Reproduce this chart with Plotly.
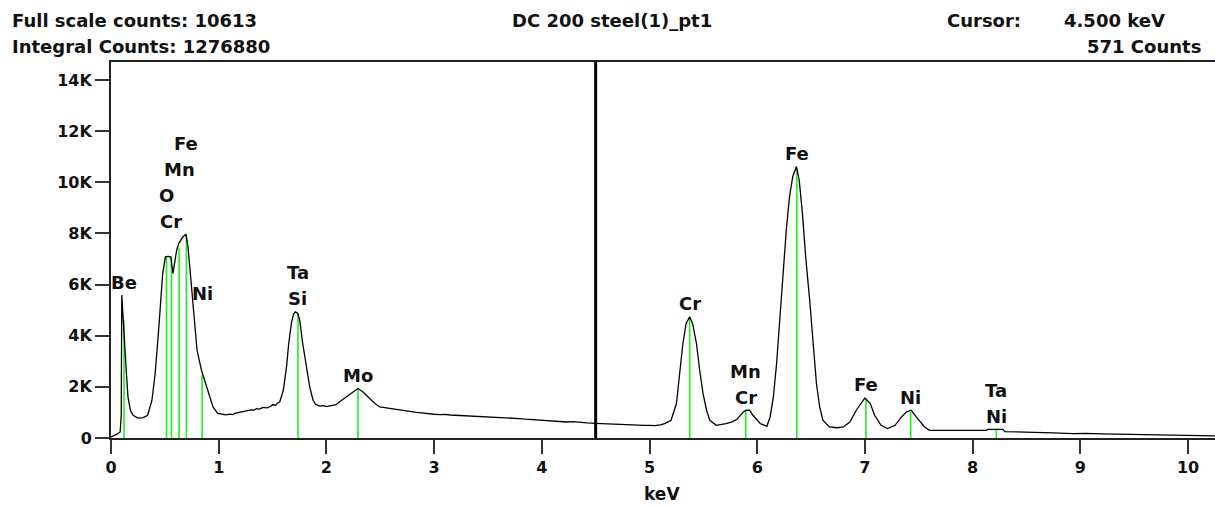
import plotly.graph_objects as go

# ---------------------------------------------------------------- data
spectrum_title = "DC 200 steel(1)_pt1"
integral_counts = 1276880
cursor_kev = 4.5
cursor_counts = 571

# EDS spectrum: energy (keV) and counts
energy_kev = [
    0.00, 0.03, 0.06, 0.085, 0.095, 0.10, 0.112, 0.128, 0.143, 0.158,
    0.18, 0.205, 0.25, 0.30, 0.34, 0.38, 0.41, 0.44, 0.46, 0.48,
    0.505, 0.53, 0.555, 0.575, 0.61, 0.63, 0.665, 0.695, 0.715, 0.746,
    0.777, 0.799, 0.84, 0.886, 0.947, 0.99, 1.04, 1.07, 1.10, 1.13,
    1.15, 1.18, 1.20, 1.23, 1.26, 1.30, 1.33, 1.35, 1.38, 1.41,
    1.45, 1.48, 1.50, 1.53, 1.545, 1.567, 1.60, 1.63,
    1.65, 1.675, 1.695, 1.712, 1.735, 1.752, 1.78, 1.814, 1.845, 1.876,
    1.90, 1.94, 1.97, 2.00, 2.03, 2.06, 2.09, 2.12, 2.185, 2.247, 2.293,
    2.34, 2.40, 2.45, 2.495, 2.53, 2.56, 2.60, 2.65, 2.70, 2.75,
    2.79, 2.836, 2.88, 2.92, 2.96, 3.00, 3.05, 3.10, 3.15, 3.20,
    3.25, 3.30, 3.36, 3.42, 3.48, 3.55, 3.62, 3.68, 3.73, 3.79,
    3.85, 3.92, 4.00, 4.06, 4.12, 4.18, 4.23, 4.29, 4.35, 4.42,
    4.50, 4.55, 4.60, 4.68, 4.75, 4.82, 4.90, 4.95, 5.00, 5.05,
    5.10, 5.14, 5.20, 5.25, 5.28, 5.31,
    5.34, 5.373, 5.40, 5.436, 5.466, 5.497, 5.53, 5.56, 5.62, 5.66,
    5.71, 5.76, 5.81, 5.87, 5.90, 5.93, 5.96, 6.03, 6.09, 6.12, 6.15,
    6.18, 6.21, 6.24, 6.27, 6.30, 6.33, 6.364, 6.39, 6.42, 6.45,
    6.49, 6.52, 6.55, 6.58, 6.61, 6.67, 6.74, 6.80, 6.86, 6.92,
    6.97, 7.00, 7.05, 7.09, 7.15, 7.21, 7.28, 7.34, 7.385, 7.43,
    7.49, 7.555, 7.60, 7.80, 7.90, 8.00, 8.13, 8.14, 8.28, 8.30,
    8.45, 8.60, 8.75, 8.93, 9.05, 9.20, 9.30, 9.45, 9.60, 9.74,
    9.85, 10.0, 10.12, 10.25,
]
counts = [
    40, 90, 160, 235, 900, 5585, 4600, 3560, 2530, 1600,
    1085, 890, 780, 800, 890, 1475, 2520, 4090, 5390, 6430,
    7085, 7100, 7085, 6430, 7350, 7610, 7850, 7970, 7475, 5910,
    4345, 3430, 2650, 2000, 1213, 960, 916, 905, 930, 915,
    960, 990, 1010, 1040, 1085, 1100, 1090, 1150, 1130, 1200,
    1180, 1230, 1300, 1280, 1360, 1410, 1867, 2780,
    3695, 4478, 4850, 4932, 4870, 4607, 3695, 2780, 2000, 1475,
    1320, 1250, 1270, 1230, 1250, 1260, 1300, 1410, 1605, 1800, 1933,
    1800, 1542, 1350, 1213, 1190, 1160, 1130, 1100, 1075, 1050,
    1030, 1000, 985, 960, 945, 928, 915, 925, 900, 889,
    890, 870, 875, 850, 840, 815, 790, 800, 765, 760,
    735, 715, 693, 700, 665, 650, 626, 640, 605, 590,
    571, 560, 545, 530, 525, 505, 500, 490, 497, 485,
    510, 563, 693, 1346, 2520, 3695,
    4478, 4736, 4478, 3695, 2650, 1738, 1085, 693, 497, 520,
    563, 620, 720, 1018, 1085, 1085, 890, 563, 458, 822, 1605,
    2912, 4736, 6564, 8130, 9433, 10216, 10613, 10087, 8783, 7085,
    5260, 3560, 2130, 1213, 693, 430, 400, 430, 626, 1085,
    1410, 1566, 1346, 890, 497, 368, 497, 822, 1018, 1085,
    759, 430, 301, 290, 300, 295, 301, 340, 340, 250,
    235, 235, 200, 172, 180, 160, 150, 130, 120, 106,
    110, 95, 90, 80,
]

# identified emission lines: position (keV) and marker height (counts)
line_kev = [0.121, 0.515, 0.561, 0.632, 0.700, 0.846, 1.736, 2.293,
            5.373, 5.893, 6.368, 7.01, 7.425, 8.22]
line_top = [4600, 7085, 7085, 7420, 7970, 2450, 4870, 1933,
            4736, 1085, 10545, 1540, 1018, 328]

# peak labels: element, keV, peak height it sits over, stack level
label_text = ["Be", "Cr", "O", "Mn", "Fe", "Ni", "Si", "Ta", "Mo",
              "Cr", "Cr", "Mn", "Fe", "Fe", "Ni", "Ni", "Ta"]
label_kev = [0.121, 0.561, 0.515, 0.632, 0.700, 0.846, 1.736, 1.736, 2.293,
             5.373, 5.893, 5.893, 6.368, 7.01, 7.425, 8.22, 8.22]
label_peak = [5585, 7970, 7970, 7970, 7970, 5150, 4932, 4932, 1933,
              4736, 1085, 1085, 10613, 1566, 1085, 340, 340]
label_level = [0, 0, 1, 2, 3, 0, 0, 1, 0, 0, 0, 1, 0, 0, 0, 0, 1]

x_ticks = list(range(0, 11))
y_ticks = [0, 2000, 4000, 6000, 8000, 10000, 12000, 14000]
y_tick_text = ["0", "2K", "4K", "6K", "8K", "10K", "12K", "14K"]

# ---------------------------------------------------------------- layout
W, H = 1215, 506
ML, MR, MT, MB = 111, 0, 62, 68
PW, PH = W - ML - MR, H - MT - MB
FONT = "DejaVu Sans"
INK = "#111111"


def paper_x(px):
    return (px - ML) / PW


def paper_y(py):
    return (H - MB - py) / PH


fig = go.Figure()

# element marker lines
mx, my = [], []
for e, t in zip(line_kev, line_top):
    mx += [e, e, None]
    my += [0, t, None]
fig.add_trace(go.Scatter(x=mx, y=my, mode="lines",
                         line=dict(color="#1ef01e", width=1.6),
                         hoverinfo="skip", showlegend=False))

# spectrum
fig.add_trace(go.Scatter(x=energy_kev, y=counts, mode="lines",
                         line=dict(color="#000000", width=1.3),
                         showlegend=False))

# cursor
fig.add_shape(type="line", xref="x", yref="paper",
              x0=cursor_kev, x1=cursor_kev, y0=0, y1=1,
              line=dict(color="#000000", width=3))

ann = []
for txt, e, pk, lv in zip(label_text, label_kev, label_peak, label_level):
    ann.append(dict(x=e, y=pk, xref="x", yref="y", text=txt, showarrow=False,
                    xanchor="center", yanchor="middle", yshift=13 + 26 * lv,
                    font=dict(family=FONT, size=18, color=INK, weight="bold")))

head_font = dict(family=FONT, size=18, color=INK, weight="bold")
ann += [
    dict(x=paper_x(10), y=paper_y(20), xref="paper", yref="paper",
         text=f"Full scale counts: {max(counts)}", showarrow=False,
         xanchor="left", yanchor="middle", font=head_font),
    dict(x=paper_x(10), y=paper_y(47), xref="paper", yref="paper",
         text=f"Integral Counts: {integral_counts}", showarrow=False,
         xanchor="left", yanchor="middle", font=head_font),
    dict(x=paper_x(612), y=paper_y(20), xref="paper", yref="paper",
         text=spectrum_title, showarrow=False,
         xanchor="center", yanchor="middle", font=head_font),
    dict(x=paper_x(945), y=paper_y(20), xref="paper", yref="paper",
         text="Cursor:", showarrow=False,
         xanchor="left", yanchor="middle", font=head_font),
    dict(x=paper_x(1167), y=paper_y(20), xref="paper", yref="paper",
         text=f"{cursor_kev:.3f} keV", showarrow=False,
         xanchor="right", yanchor="middle", font=head_font),
    dict(x=paper_x(1203), y=paper_y(47), xref="paper", yref="paper",
         text=f"{cursor_counts} Counts", showarrow=False,
         xanchor="right", yanchor="middle", font=head_font),
    # axis title
    dict(x=paper_x(662), y=paper_y(494), xref="paper", yref="paper",
         text="keV", showarrow=False,
         xanchor="center", yanchor="middle",
         font=dict(family=FONT, size=17, color=INK, weight="bold")),
]

axis_common = dict(showgrid=False, zeroline=False, showline=True,
                   linecolor="#222222", linewidth=2, ticks="outside",
                   ticklen=14, tickwidth=2, tickcolor="#333333",
                   tickfont=dict(family=FONT, size=16, color=INK, weight="bold"))

fig.update_layout(
    width=W, height=H,
    margin=dict(l=ML, r=MR, t=MT, b=MB, pad=0),
    paper_bgcolor="white", plot_bgcolor="white",
    annotations=ann,
    xaxis=dict(range=[0, PW / 107.7], tickvals=x_ticks, mirror=True,
               **axis_common),
    yaxis=dict(range=[0, 14700], tickvals=y_ticks, ticktext=y_tick_text,
               **axis_common),
)

fig.write_html("out.html")
